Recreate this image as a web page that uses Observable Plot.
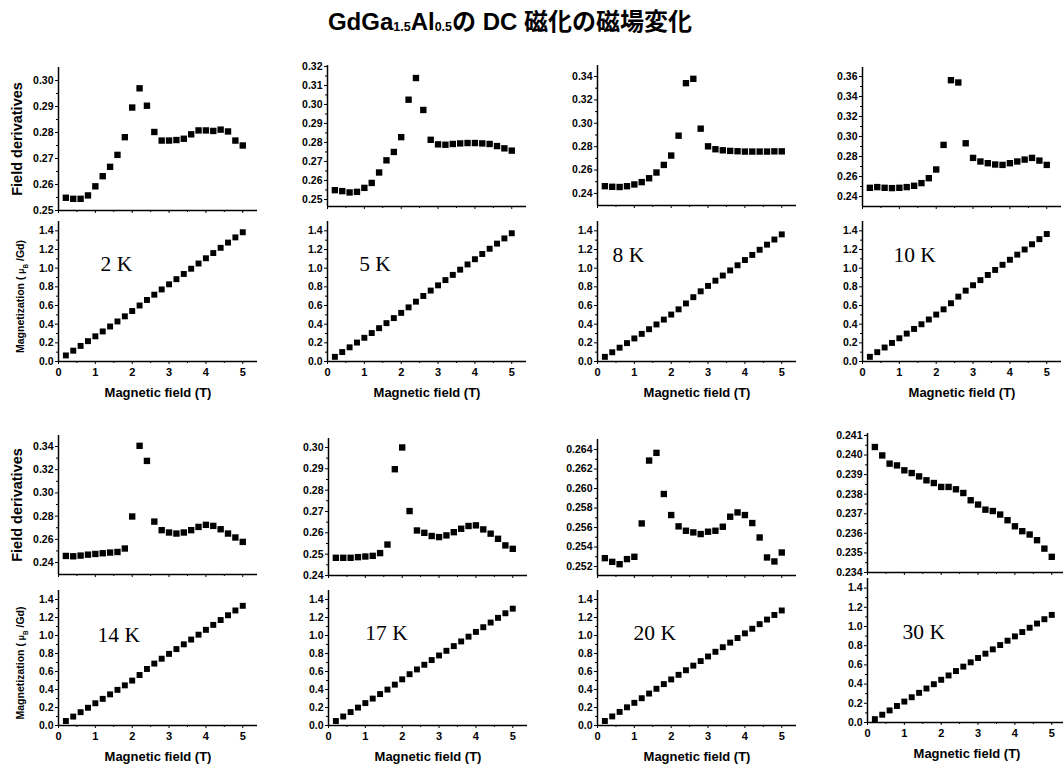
<!DOCTYPE html>
<html><head><meta charset="utf-8">
<script src="https://cdn.jsdelivr.net/npm/d3@7"></script>
<script src="https://cdn.jsdelivr.net/npm/@observablehq/plot@0.6"></script>
<style>
body{margin:0;background:#fff;}
#wrap{position:relative;width:1063px;height:764px;overflow:hidden;background:#fff;}
#title{position:absolute;left:0;top:8px;width:1020px;text-align:center;line-height:28px;font-weight:bold;font-size:24px;font-family:"Liberation Sans","Noto Sans CJK JP",Arial,sans-serif;color:#000;}
#title sub{font-size:12.5px;vertical-align:-1px;}
</style></head><body>
<div id="wrap"><div id="title">GdGa<sub>1.5</sub>Al<sub>0.5</sub>の DC 磁化の磁場変化</div></div>
<script>
// ---------- data ----------
const temps = ["2 K","5 K","8 K","10 K","14 K","17 K","20 K","30 K"];
const fields = [0.2,0.4,0.6,0.8,1.0,1.2,1.4,1.6,1.8,2.0,2.2,2.4,2.6,2.8,3.0,3.2,3.4,3.6,3.8,4.0,4.2,4.4,4.6,4.8,5.0];

const deriv2K  = [0.2549,0.2545,0.2545,0.2558,0.2593,0.2632,0.2668,0.2714,0.2782,0.2896,0.2970,0.2903,0.2802,0.2769,0.2769,0.2771,0.2776,0.2793,0.2808,0.2808,0.2806,0.2811,0.2804,0.2769,0.2750];
const deriv5K  = [0.2549,0.2544,0.2537,0.2540,0.2561,0.2587,0.2642,0.2706,0.2750,0.2828,0.3025,0.3139,0.2971,0.2814,0.2790,0.2788,0.2792,0.2795,0.2797,0.2797,0.2795,0.2792,0.2781,0.2769,0.2757];
const deriv8K  = [0.2462,0.2457,0.2455,0.2462,0.2477,0.2497,0.2530,0.2579,0.2644,0.2724,0.2894,0.3343,0.3380,0.2954,0.2803,0.2778,0.2769,0.2764,0.2761,0.2758,0.2758,0.2758,0.2758,0.2760,0.2760];
const deriv10K = [0.2487,0.2494,0.2487,0.2484,0.2487,0.2494,0.2507,0.2534,0.2583,0.2670,0.2916,0.3563,0.3540,0.2932,0.2786,0.2750,0.2733,0.2720,0.2716,0.2733,0.2750,0.2769,0.2786,0.2759,0.2716];
const deriv14K = [0.2457,0.2454,0.2460,0.2468,0.2474,0.2480,0.2486,0.2491,0.2521,0.2797,0.3406,0.3276,0.2753,0.2679,0.2659,0.2650,0.2659,0.2679,0.2707,0.2725,0.2716,0.2687,0.2650,0.2616,0.2578];
const deriv17K = [0.2483,0.2483,0.2483,0.2486,0.2489,0.2492,0.2505,0.2545,0.2898,0.3000,0.2702,0.2611,0.2600,0.2585,0.2580,0.2588,0.2603,0.2619,0.2632,0.2635,0.2616,0.2596,0.2572,0.2541,0.2525];
const deriv20K = [0.25286,0.25248,0.25224,0.25276,0.25300,0.25642,0.26287,0.26366,0.25944,0.25728,0.25612,0.25567,0.25550,0.25533,0.25557,0.25567,0.25608,0.25711,0.25755,0.25728,0.25646,0.25498,0.25293,0.25252,0.25344];
const deriv30K = [0.24041,0.23998,0.23956,0.23947,0.23922,0.23908,0.23891,0.23871,0.23857,0.23837,0.23837,0.23825,0.23806,0.23769,0.23747,0.23721,0.23714,0.23696,0.23667,0.23636,0.23611,0.23594,0.23565,0.23522,0.23480];

const mag2K  = [0.065,0.116,0.167,0.218,0.270,0.322,0.375,0.429,0.484,0.541,0.600,0.659,0.716,0.772,0.827,0.882,0.938,0.994,1.050,1.106,1.162,1.218,1.274,1.330,1.385];
const mag5K  = [0.050,0.101,0.152,0.203,0.254,0.305,0.357,0.411,0.465,0.521,0.580,0.641,0.702,0.760,0.816,0.872,0.928,0.984,1.040,1.096,1.152,1.208,1.263,1.319,1.374];
const mag8K  = [0.050,0.099,0.148,0.197,0.247,0.296,0.346,0.397,0.449,0.503,0.559,0.622,0.689,0.752,0.810,0.866,0.921,0.976,1.031,1.087,1.142,1.197,1.252,1.307,1.362];
const mag10K = [0.050,0.100,0.150,0.199,0.249,0.299,0.349,0.399,0.450,0.503,0.559,0.624,0.695,0.759,0.817,0.872,0.927,0.981,1.036,1.090,1.145,1.200,1.256,1.311,1.366];
const mag14K = [0.050,0.099,0.148,0.197,0.247,0.296,0.346,0.396,0.446,0.499,0.561,0.628,0.688,0.742,0.796,0.849,0.902,0.955,1.009,1.063,1.118,1.172,1.225,1.278,1.330];
const mag17K = [0.050,0.100,0.149,0.199,0.249,0.299,0.349,0.399,0.454,0.513,0.570,0.623,0.675,0.727,0.778,0.830,0.882,0.934,0.987,1.040,1.092,1.144,1.196,1.247,1.298];
const mag20K = [0.050,0.101,0.151,0.202,0.252,0.303,0.355,0.408,0.460,0.512,0.563,0.614,0.665,0.716,0.767,0.819,0.870,0.921,0.972,1.024,1.075,1.126,1.177,1.228,1.278];
const mag30K = [0.035,0.081,0.126,0.172,0.218,0.263,0.309,0.354,0.399,0.445,0.490,0.536,0.582,0.627,0.672,0.717,0.762,0.807,0.852,0.897,0.942,0.987,1.031,1.076,1.121];

const ticks2K  = [0.25,0.26,0.27,0.28,0.29,0.30];
const ticks5K  = [0.25,0.26,0.27,0.28,0.29,0.30,0.31,0.32];
const ticks8K  = [0.24,0.26,0.28,0.30,0.32,0.34];
const ticks10K = [0.24,0.26,0.28,0.30,0.32,0.34,0.36];
const ticks14K = [0.24,0.26,0.28,0.30,0.32,0.34];
const ticks17K = [0.24,0.25,0.26,0.27,0.28,0.29,0.30];
const ticks20K = [0.252,0.254,0.256,0.258,0.260,0.262,0.264];
const ticks30K = [0.234,0.235,0.236,0.237,0.238,0.239,0.240,0.241];
const magTicks = [0.0,0.2,0.4,0.6,0.8,1.0,1.2,1.4];
const fieldTicks = [0,1,2,3,4,5];
const halfTicks = [0.5,1.5,2.5,3.5,4.5];

const derivSeries = [deriv2K,deriv5K,deriv8K,deriv10K,deriv14K,deriv17K,deriv20K,deriv30K];
const magSeries = [mag2K,mag5K,mag8K,mag10K,mag14K,mag17K,mag20K,mag30K];
const derivTicks = [ticks2K,ticks5K,ticks8K,ticks10K,ticks14K,ticks17K,ticks20K,ticks30K];

const DERIV_LABEL = "Field derivatives";
const MAG_LABEL = "Magnetization ( μB /Gd)";
const X_LABEL = "Magnetic field (T)";

// ---------- layout ----------
const layout = [
  {x:58,  t1:67,  b1:210, d1:[0.25,0.305],     dec:2, t2:221, b2:361, tp:[1.14,1.045]},
  {x:327, t1:65,  b1:206, d1:[0.2463,0.3205],  dec:2, t2:221, b2:361, tp:[0.86,1.045]},
  {x:597, t1:65,  b1:205, d1:[0.2297,0.3494],  dec:2, t2:221, b2:361, tp:[0.41,1.14]},
  {x:862, t1:67,  b1:206, d1:[0.230,0.369],    dec:2, t2:221, b2:361, tp:[0.84,1.14]},
  {x:58,  t1:435, b1:574, d1:[0.2297,0.3495],  dec:2, t2:590, b2:725, tp:[1.06,1.0]},
  {x:328, t1:438, b1:575, d1:[0.24,0.3042],    dec:2, t2:590, b2:725, tp:[1.0,1.03]},
  {x:597, t1:439, b1:575, d1:[0.25108,0.26503],dec:3, t2:590, b2:725, tp:[0.98,1.03]},
  {x:867, t1:433, b1:572, d1:[0.234,0.2411],   dec:3, t2:578, b2:722, tp:[0.95,0.94]}
];
const ML = 58, MR = 8, MT = 4, FW = 199;
const FONT = "'Liberation Sans', Arial, Helvetica, sans-serif";
const wrap = document.getElementById("wrap");

function place(p, left, top) {
  p.style.position = "absolute";
  p.style.left = left + "px";
  p.style.top = top + "px";
  wrap.appendChild(p);
}
function mids(t) { return t.slice(1).map((v, j) => (v + t[j]) / 2); }

function frameMarks(ymin, yt, fmt, showX) {
  return [
    Plot.axisY(yt, {tickSize:3, tickPadding:2, tickFormat:fmt, fontSize:10.5, fontWeight:"bold", label:null}),
    Plot.axisY(mids(yt), {tickSize:2, fill:"none", label:null}),
    Plot.axisX(fieldTicks, showX
      ? {tickSize:3, tickPadding:4, fontSize:11, fontWeight:"bold", label:null}
      : {tickSize:3, fill:"none", label:null}),
    Plot.axisX(halfTicks, {tickSize:2, fill:"none", label:null}),
    Plot.ruleX([0], {stroke:"#000", strokeWidth:1.5}),
    Plot.ruleY([ymin], {stroke:"#000", strokeWidth:1.5})
  ];
}

const baseStyle = {fontFamily: FONT, fontWeight: "bold", background: "transparent", color: "#000", overflow: "visible"};

layout.forEach((L, i) => {
  const col = i % 4;
  // ---- top panel: field derivatives ----
  const dData = fields.map((x, j) => ({x, y: derivSeries[i][j]}));
  const fh1 = L.b1 - L.t1;
  const m1 = frameMarks(L.d1[0], derivTicks[i], d => d.toFixed(L.dec), false);
  m1.push(Plot.dot(dData, {x:"x", y:"y", symbol:"square", r:3.6, fill:"#000"}));
  if (col === 0) m1.push(Plot.text([DERIV_LABEL], {frameAnchor:"left", textAnchor:"middle", lineAnchor:"middle", dx:-41, rotate:-90, fontSize:14.5, fontWeight:"bold"}));
  const p1 = Plot.plot({
    width: ML + FW + MR, height: MT + fh1 + 4,
    marginLeft: ML, marginRight: MR, marginTop: MT, marginBottom: 4,
    x: {domain: [0, 5.4]}, y: {domain: L.d1},
    style: baseStyle,
    marks: m1
  });
  place(p1, L.x - ML, L.t1 - MT);

  // ---- bottom panel: magnetization ----
  const mData = fields.map((x, j) => ({x, y: magSeries[i][j]}));
  const fh2 = L.b2 - L.t2;
  const m2 = frameMarks(0, magTicks, d => d.toFixed(1), true);
  m2.push(Plot.dot(mData, {x:"x", y:"y", symbol:"square", r:3.35, fill:"#000"}));
  m2.push(Plot.text([{x: L.tp[0], y: L.tp[1], t: temps[i]}], {x:"x", y:"y", text:"t", textAnchor:"start", lineAnchor:"middle", fontFamily:"'Liberation Serif', 'DejaVu Serif', serif", fontWeight:"normal", fontSize:21.5}));
  m2.push(Plot.text([X_LABEL], {frameAnchor:"bottom", textAnchor:"middle", lineAnchor:"middle", dy:31, fontSize:13, fontWeight:"bold"}));
  if (col === 0) m2.push(Plot.text([MAG_LABEL], {frameAnchor:"left", textAnchor:"middle", lineAnchor:"middle", dx:-38, dy:5, rotate:-90, fontSize:10.5, fontWeight:"bold"}));
  const p2 = Plot.plot({
    width: ML + FW + MR, height: MT + fh2 + 42,
    marginLeft: ML, marginRight: MR, marginTop: MT, marginBottom: 42,
    x: {domain: [0, 5.4]}, y: {domain: [0, 1.5]},
    style: baseStyle,
    marks: m2
  });
  d3.select(p2).selectAll("text").filter(function(){ return this.textContent === MAG_LABEL; }).each(function(){
    const t = d3.select(this);
    t.text(null);
    t.append("tspan").text("Magnetization ( ");
    t.append("tspan").attr("font-size", "0.8em").text("μ");
    t.append("tspan").attr("baseline-shift", "sub").attr("font-size", "0.6em").text("B");
    t.append("tspan").text(" /Gd)");
  });
  place(p2, L.x - ML, L.t2 - MT);
});
</script>
</body></html>
